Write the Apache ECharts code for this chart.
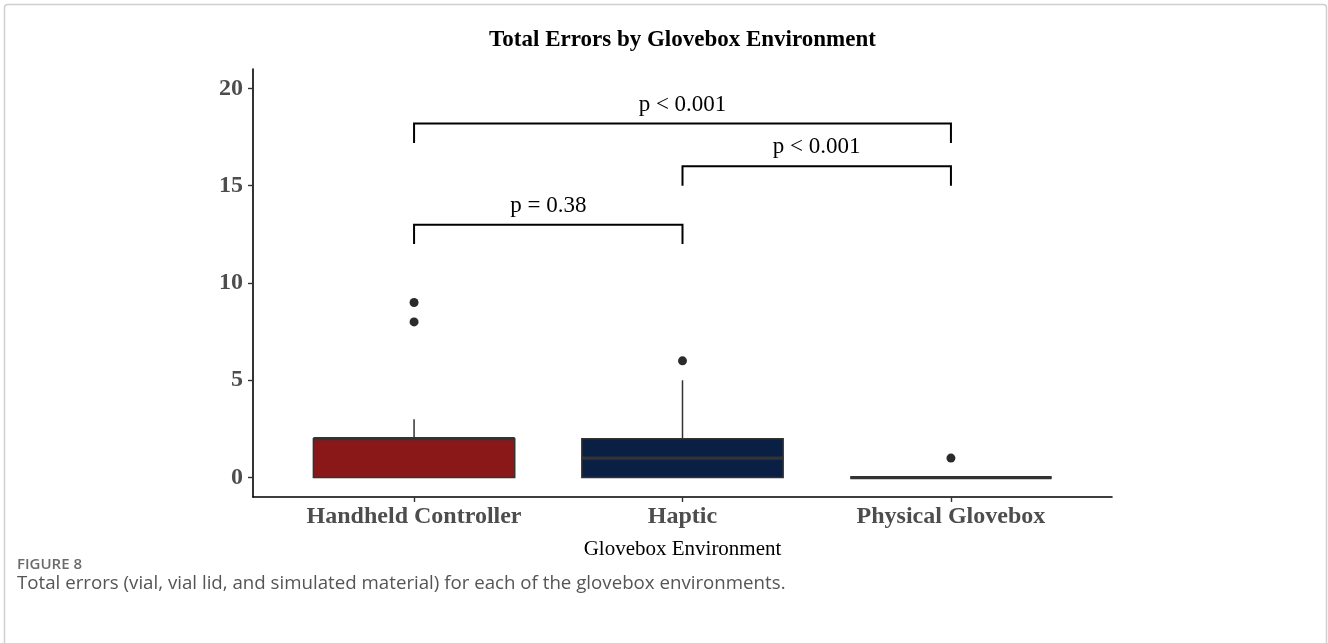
<!DOCTYPE html>
<html>
<head>
<meta charset="utf-8">
<script src="https://cdn.jsdelivr.net/npm/echarts@6/dist/echarts.min.js"></script>
<style>
html,body{margin:0;padding:0;background:#fff;}
#main{width:1328px;height:643px;}
</style>
</head>
<body>
<div id="main"></div>
<script>
// ---- data ----
const categories = ['Handheld Controller', 'Haptic', 'Physical Glovebox'];
const whiskerLow = [0, 0, 0];
const q1 = [0, 0, 0];
const medians = [2, 1, 0];
const q3 = [2, 2, 0];
const whiskerHigh = [3, 5, 0];
const outlierCategory = [0, 0, 1, 2];
const outlierValue = [8, 9, 6, 1];
const yTicks = [0, 5, 10, 15, 20];
const bracketFrom = [0, 1, 0];
const bracketTo = [1, 2, 2];
const bracketY = [13, 16, 18.2];
const bracketTipY = [12, 15, 17.2];
const pLabels = ['p = 0.38', 'p < 0.001', 'p < 0.001'];
const boxColors = ['#8b1818', '#0a1f44', '#ffffff'];

const serif = "'Liberation Serif', 'Times New Roman', serif";

const boxData = categories.map((c, i) => [i + 1, whiskerLow[i], q1[i], medians[i], q3[i], whiskerHigh[i], i]);
const outlierData = outlierCategory.map((c, i) => [c + 1, outlierValue[i]]);
const bracketData = bracketFrom.map((f, i) => [f + 1, bracketTo[i] + 1, bracketY[i], bracketTipY[i], i]);

const chart = echarts.init(document.getElementById('main'));
chart.setOption({
  animation: false,
  backgroundColor: '#fff',
  grid: { left: 253, right: 216, top: 69, bottom: 146 },
  xAxis: {
    type: 'value', min: 0.4, max: 3.6,
    splitLine: { show: false },
    axisLine: { show: true, onZero: false, lineStyle: { color: '#000', width: 1.6 } },
    axisTick: { show: true, length: 5, customValues: [1, 2, 3], lineStyle: { color: '#333', width: 1.4 } },
    axisLabel: {
      customValues: [1, 2, 3],
      formatter: v => categories[Math.round(v) - 1] || '',
      fontFamily: serif, fontWeight: 'bold', fontSize: 24, color: '#4d4d4d', margin: 8
    },
    name: 'Glovebox Environment', nameLocation: 'middle', nameGap: 42,
    nameTextStyle: { fontFamily: serif, fontSize: 21, color: '#000' }
  },
  yAxis: {
    type: 'value', min: -1, max: 21,
    splitLine: { show: false },
    axisLine: { show: true, onZero: false, lineStyle: { color: '#000', width: 1.6 } },
    axisTick: { show: true, length: 5, customValues: yTicks, lineStyle: { color: '#333', width: 1.4 } },
    axisLabel: {
      customValues: yTicks,
      fontFamily: serif, fontWeight: 'bold', fontSize: 24, color: '#4d4d4d', margin: 10
    }
  },
  graphic: [
    { type: 'rect', silent: true, z: -10,
      shape: { x: 4.5, y: 4.5, width: 1322, height: 700, r: 3 },
      style: { fill: 'none', stroke: '#cfcfcf', lineWidth: 1.5 } },
    { type: 'text', silent: true,
      style: { x: 682.5, y: 40, text: 'Total Errors by Glovebox Environment', textAlign: 'center', textVerticalAlign: 'middle',
        font: "bold 23px 'Liberation Serif', serif", fill: '#000' } },
    { type: 'text', silent: true,
      style: { x: 17, y: 565, text: 'FIGURE 8', textAlign: 'left', textVerticalAlign: 'middle',
        font: "600 15px 'Open Sans', sans-serif", fill: '#6b6b6b' } },
    { type: 'text', silent: true,
      style: { x: 17, y: 584, text: 'Total errors (vial, vial lid, and simulated material) for each of the glovebox environments.', textAlign: 'left', textVerticalAlign: 'middle',
        font: "18.7px 'Open Sans', sans-serif", fill: '#555' } }
  ],
  series: [
    {
      type: 'custom',
      clip: false,
      data: boxData,
      renderItem: function (params, api) {
        const x = api.value(0);
        const idx = api.value(6);
        const half = api.size([0.75, 0])[0] / 2;
        const pLo = api.coord([x, api.value(1)]);
        const pQ1 = api.coord([x, api.value(2)]);
        const pMed = api.coord([x, api.value(3)]);
        const pQ3 = api.coord([x, api.value(4)]);
        const pHi = api.coord([x, api.value(5)]);
        const lineStyle = { stroke: '#333', lineWidth: 1.5 };
        return {
          type: 'group',
          children: [
            { type: 'line', shape: { x1: pQ3[0], y1: pQ3[1], x2: pHi[0], y2: pHi[1] }, style: lineStyle },
            { type: 'line', shape: { x1: pQ1[0], y1: pQ1[1], x2: pLo[0], y2: pLo[1] }, style: lineStyle },
            { type: 'rect', shape: { x: pQ3[0] - half, y: pQ3[1], width: half * 2, height: pQ1[1] - pQ3[1] },
              style: { fill: boxColors[idx], stroke: '#333', lineWidth: 1.5 } },
            { type: 'line', shape: { x1: pMed[0] - half, y1: pMed[1], x2: pMed[0] + half, y2: pMed[1] },
              style: { stroke: '#333', lineWidth: 3.2 } }
          ]
        };
      }
    },
    {
      type: 'scatter',
      data: outlierData,
      symbol: 'circle', symbolSize: 9,
      itemStyle: { color: '#2b2b2b', opacity: 1 }
    },
    {
      type: 'custom',
      clip: false,
      data: bracketData,
      renderItem: function (params, api) {
        const a = api.coord([api.value(0), api.value(2)]);
        const b = api.coord([api.value(1), api.value(2)]);
        const ta = api.coord([api.value(0), api.value(3)]);
        const tb = api.coord([api.value(1), api.value(3)]);
        const idx = api.value(4);
        return {
          type: 'group',
          children: [
            { type: 'polyline', shape: { points: [ta, a, b, tb] }, style: { stroke: '#000', lineWidth: 2, fill: 'none' } },
            { type: 'text', style: { x: (a[0] + b[0]) / 2, y: a[1] - 19, text: pLabels[idx], textAlign: 'center', textVerticalAlign: 'middle',
              font: "23px 'Liberation Serif', serif", fill: '#000' } }
          ]
        };
      }
    }
  ]
});
</script>
</body>
</html>
